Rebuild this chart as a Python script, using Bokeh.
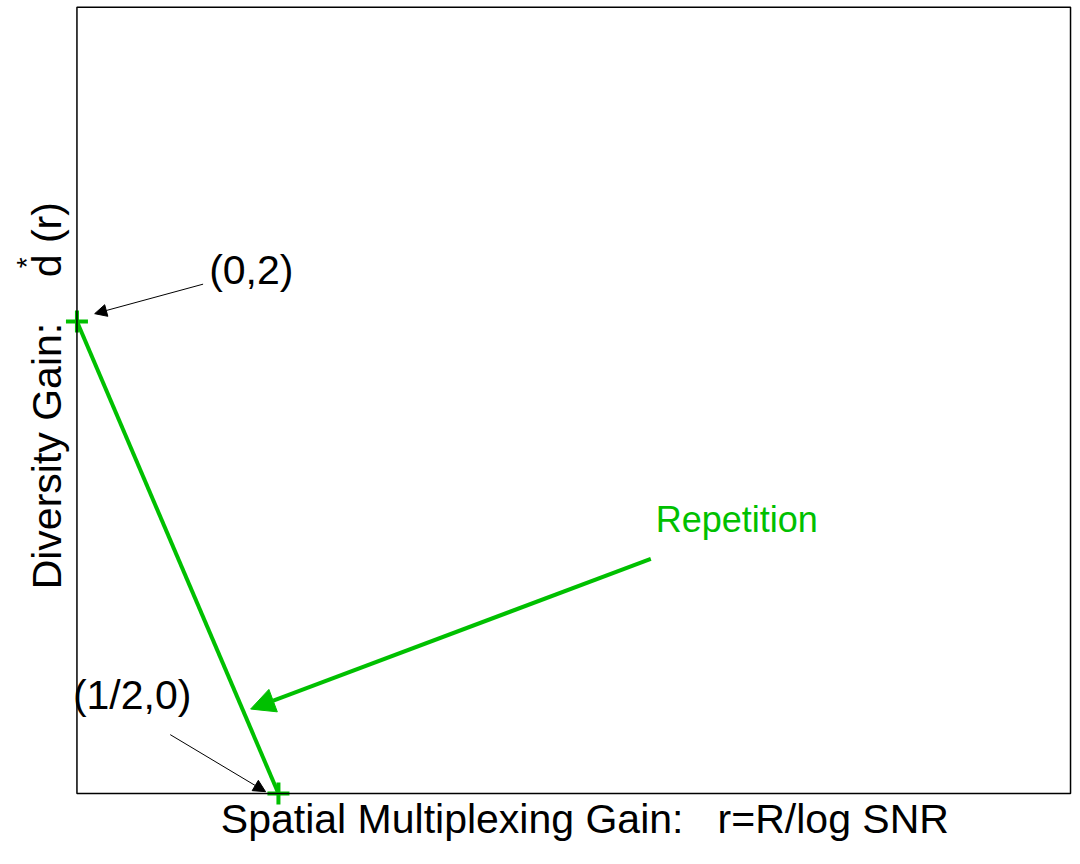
import math
from bokeh.plotting import figure
from bokeh.models import Label, Arrow, NormalHead, BoxAnnotation, Range1d
from bokeh.embed import file_html
from bokeh.resources import INLINE

# ---- data ----
r_vals = [0.0, 0.5]          # spatial multiplexing gain
d_vals = [2.0, 0.0]          # diversity gain
point_labels = ["(0,2)", "(1/2,0)"]
curve_name = "Repetition"
NB = "\u00a0"
x_title = "Spatial Multiplexing Gain:" + NB * 3 + "r=R/log" + NB + "SNR"
y_title = "Diversity" + NB + "Gain:" + NB * 4 + "d" + NB + "(r)"

# axis box limits
X_MAX = 2.4655
Y_MAX = 3.3306

GREEN = "#00c000"
FONT = "Liberation Sans"
FS = "41px"
# correction for how the renderer places an alphabetic baseline (data units)
DY = 0.064
DX = 0.037

p = figure(width=1072, height=848,
           x_range=Range1d(-0.1897, 2.4704), y_range=Range1d(-0.2328, 3.3597),
           output_backend="svg", toolbar_location=None,
           x_axis_location=None, y_axis_location=None, min_border=0)
p.grid.visible = False
p.outline_line_color = None
p.background_fill_color = "white"

# visible axes box
p.add_layout(BoxAnnotation(left=0, right=X_MAX, bottom=0, top=Y_MAX,
                           fill_alpha=0, line_color="black", line_alpha=1.0,
                           line_width=1.5))

# curve
p.line(r_vals, d_vals, line_color=GREEN, line_width=4)
p.scatter(r_vals, d_vals, marker="cross", size=22, line_color=GREEN, line_width=4)

# Repetition arrow + label
p.add_layout(Arrow(x_start=1.424, y_start=0.994, x_end=0.431, y_end=0.358,
                   line_color=GREEN, line_width=4,
                   end=NormalHead(size=24, fill_color=GREEN, line_color=GREEN)))
p.add_layout(Label(x=1.436, y=1.106 + 0.057, text=curve_name, text_color=GREEN,
                   text_font=FONT, text_font_size="36px",
                   text_align="left", text_baseline="alphabetic"))

# point annotations
p.add_layout(Arrow(x_start=0.313, y_start=2.158, x_end=0.044, y_end=2.033,
                   line_color="black", line_width=1,
                   end=NormalHead(size=12, fill_color="black", line_color="black")))
p.add_layout(Label(x=0.328, y=2.154 + DY, text=point_labels[0], text_color="black",
                   text_font=FONT, text_font_size=FS,
                   text_align="left", text_baseline="alphabetic"))

p.add_layout(Arrow(x_start=0.2315, y_start=0.2495, x_end=0.468, y_end=0.008,
                   line_color="black", line_width=1,
                   end=NormalHead(size=12, fill_color="black", line_color="black")))
p.add_layout(Label(x=-0.010, y=0.353 + DY, text=point_labels[1], text_color="black",
                   text_font=FONT, text_font_size=FS,
                   text_align="left", text_baseline="alphabetic"))

# axis titles
p.add_layout(Label(x=0.357, y=-0.1705 + DY, text=x_title, text_color="black",
                   text_font=FONT, text_font_size=FS,
                   text_align="left", text_baseline="alphabetic"))
p.add_layout(Label(x=-0.037 - DX, y=0.865, text=y_title, text_color="black",
                   text_font=FONT, text_font_size=FS, angle=math.pi / 2,
                   text_align="left", text_baseline="alphabetic"))
p.add_layout(Label(x=-0.1256, y=2.249, text="*", text_color="black",
                   text_font=FONT, text_font_size="28px", angle=math.pi / 2,
                   text_align="center", text_baseline="middle"))

open("out.html", "w").write(file_html(p, INLINE))
